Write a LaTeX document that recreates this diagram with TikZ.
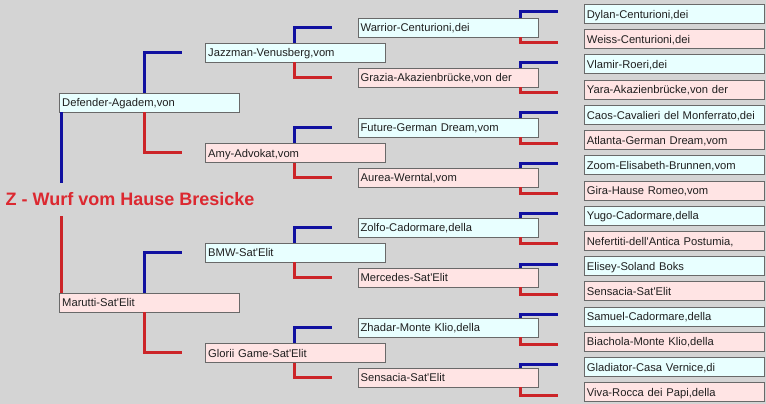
\documentclass[tikz,border=0pt]{standalone}
\usepackage{fontspec}
\setmainfont{Liberation Sans}
\usepackage{tikz}
\usetikzlibrary{calc}
\definecolor{bggray}{RGB}{212,212,212}
\definecolor{boxgray}{RGB}{105,105,105}
\definecolor{malefill}{RGB}{232,255,255}
\definecolor{femalefill}{RGB}{255,228,228}
\definecolor{sireblue}{RGB}{16,16,160}
\definecolor{damred}{RGB}{204,36,40}
\definecolor{titlered}{RGB}{220,40,48}
\newcommand{\ap}{\textquotesingle}
\tikzset{
  dog/.style={draw=boxgray,line width=0.8pt,anchor=west,text width=175pt,align=left,inner xsep=2.5pt,
    inner ysep=0pt,minimum height=19pt,text height=10.5pt,text depth=2.1pt,
    font=\fontsize{11.2}{13}\selectfont,text=black!88},
  male/.style={dog,fill=malefill},
  female/.style={dog,fill=femalefill},
  sire/.style={draw=sireblue,line width=3pt},
  dam/.style={draw=damred,line width=3pt}
}
\begin{document}
\begin{tikzpicture}[x=1pt,y=-1pt]
\fill[bggray](0,0)rectangle(766,404); %background
\useasboundingbox(0,0)rectangle(766,404);
%generation 1
\node[male](defender)at(59.3,102.5){Defender-Agadem,von};
\node[female](marutti)at(59.3,302.5){Marutti-Sat\ap Elit};
%generation 2
\node[male](jazzman)at(205.3,52.5){Jazzman-Venusberg,vom};
\node[female](amy)at(205.3,152.8){Amy-Advokat,vom};
\node[male](bmw)at(205.3,252.5){BMW-Sat\ap Elit};
\node[female](glorii)at(205.3,352.8){Glorii Game-Sat\ap Elit};
%generation 3
\node[male](warrior)at(357.7,27.5){Warrior-Centurioni,dei};
\node[female](grazia)at(357.7,77.5){Grazia-Akazienbrücke,von der};
\node[male](future)at(357.7,127.5){Future-German Dream,vom};
\node[female](aurea)at(357.7,177.5){Aurea-Werntal,vom};
\node[male](zolfo)at(357.7,227.5){Zolfo-Cadormare,della};
\node[female](mercedes)at(357.7,277.5){Mercedes-Sat\ap Elit};
\node[male](zhadar)at(357.7,327.5){Zhadar-Monte Klio,della};
\node[female](sensacia)at(357.7,377.5){Sensacia-Sat\ap Elit};
%generation 4
\node[male](dylan)at(584,14){Dylan-Centurioni,dei};
\node[female](weiss)at(584,39.2){Weiss-Centurioni,dei};
\node[male](vlamir)at(584,64.4){Vlamir-Roeri,dei};
\node[female](yara)at(584,89.6){Yara-Akazienbrücke,von der};
\node[male](caos)at(584,114.8){Caos-Cavalieri del Monferrato,dei};
\node[female](atlanta)at(584,140){Atlanta-German Dream,vom};
\node[male](zoom)at(584,165.2){Zoom-Elisabeth-Brunnen,vom};
\node[female](gira)at(584,190.4){Gira-Hause Romeo,vom};
\node[male](yugo)at(584,215.6){Yugo-Cadormare,della};
\node[female](nefertiti)at(584,240.8){Nefertiti-dell\ap Antica Postumia,};
\node[male](elisey)at(584,266){Elisey-Soland Boks};
\node[female](sensacia2)at(584,291.2){Sensacia-Sat\ap Elit};
\node[male](samuel)at(584,316.4){Samuel-Cadormare,della};
\node[female](biachola)at(584,341.6){Biachola-Monte Klio,della};
\node[male](gladiator)at(584,366.8){Gladiator-Casa Vernice,di};
\node[female](viva)at(584,392){Viva-Rocca dei Papi,della};
%litter title
\node[anchor=west,inner xsep=0pt,minimum height=33pt,text=titlered,
  font=\fontsize{18}{20}\bfseries\selectfont](title)at(5.5,199.5){Z - Wurf vom Hause Bresicke};
\draw[sire]([xshift=2pt]defender.south west)--([xshift=2pt]defender.south west|-title.north);
\draw[dam]([xshift=2pt]marutti.north west)--([xshift=2pt]marutti.north west|-title.south);
%parents
\foreach \p/\s/\d in {defender/jazzman/amy,marutti/bmw/glorii}{
  \draw[sire]([xshift=85pt]\p.north west)|-([xshift=-23pt]\s.west);
  \draw[dam]([xshift=85pt]\p.south west)|-([xshift=-23pt]\d.west);
}
\foreach \p/\s/\d in {jazzman/warrior/grazia,amy/future/aurea,bmw/zolfo/mercedes,glorii/zhadar/sensacia}{
  \draw[sire]([xshift=89pt]\p.north west)|-([xshift=-26pt]\s.west);
  \draw[dam]([xshift=89pt]\p.south west)|-([xshift=-26pt]\d.west);
}
\foreach \p/\s/\d in {warrior/dylan/weiss,grazia/vlamir/yara,future/caos/atlanta,aurea/zoom/gira,
  zolfo/yugo/nefertiti,mercedes/elisey/sensacia2,zhadar/samuel/biachola,sensacia/gladiator/viva}{
  \draw[sire]([xshift=163pt]\p.north west)|-([xshift=-26pt,yshift=2pt]\s.west);
  \draw[dam]([xshift=163pt]\p.south west)|-([xshift=-26pt,yshift=-3pt]\d.west);
}
\end{tikzpicture}
\end{document}
